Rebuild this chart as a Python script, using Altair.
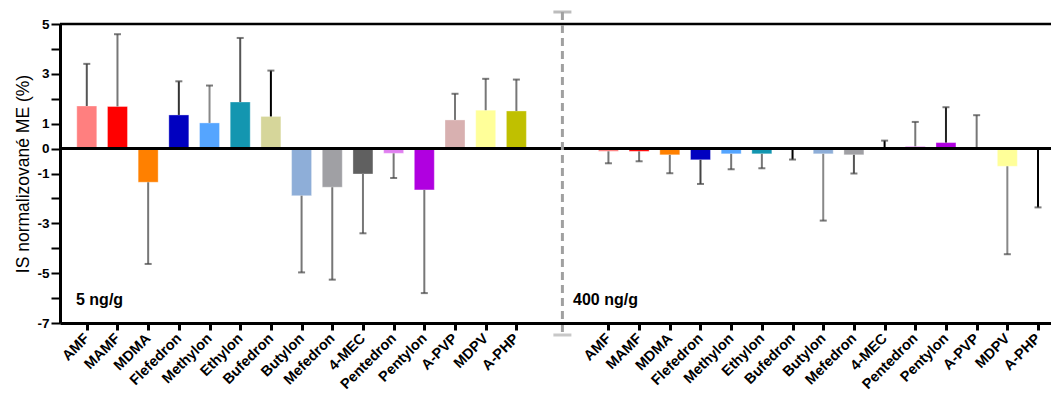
import altair as alt
import pandas as pd

# ---- data ----
NAMES = ["AMF", "MAMF", "MDMA", "Flefedron", "Methylon", "Ethylon", "Bufedron",
         "Butylon", "Mefedron", "4-MEC", "Pentedron", "Pentylon", "A-PVP", "MDPV", "A-PHP"]
GROUPS = ["5 ng/g", "400 ng/g"]
MEAN_5 = [1.71, 1.69, -1.35, 1.35, 1.03, 1.87, 1.29, -1.89, -1.55, -1.02, -0.19, -1.66, 1.15, 1.54, 1.51]
SD_5 = [1.69, 2.90, 3.28, 1.35, 1.50, 2.57, 1.84, 3.08, 3.71, 2.38, 0.99, 4.14, 1.05, 1.26, 1.26]
MEAN_400 = [-0.11, -0.11, -0.25, -0.45, -0.21, -0.21, -0.03, -0.21, -0.25, 0.01, 0.09, 0.24, 0.01, -0.71, -0.03]
SD_400 = [0.48, 0.40, 0.74, 0.97, 0.62, 0.58, 0.41, 2.68, 0.75, 0.31, 0.98, 1.42, 1.33, 3.53, 2.33]
Y_TICKS = list(range(-7, 6))

# ---- styles ----
BAR_COLORS = ["#FF7F7F", "#FF0000", "#FF8000", "#0000C0", "#55A5FF", "#1396B0", "#D6D69A",
              "#8EAED8", "#A0A0A4", "#606060", "#E080F0", "#B000E0", "#D8B0B0", "#FFFF99", "#C0C000"]
ERR_5 = ["#555", "#777", "#777", "#333", "#888", "#555", "#000", "#777", "#777", "#777",
         "#777", "#777", "#777", "#777", "#777"]
ERR_400 = ["#777", "#777", "#777", "#444", "#777", "#777", "#000", "#888", "#555", "#000",
           "#777", "#222", "#777", "#888", "#000"]
FONT = "Liberation Sans"
GAP = 17  # index where the second group starts

rows = []
for g, (means, sds, errc) in enumerate([(MEAN_5, SD_5, ERR_5), (MEAN_400, SD_400, ERR_400)]):
    for i, n in enumerate(NAMES):
        m = means[i]
        s = sds[i]
        sign = 1 if m >= 0 else -1
        rows.append({"group": GROUPS[g], "name": n, "pos": i + g * GAP, "mean": m,
                     "end": m + sign * s, "errc": errc[i]})
df = pd.DataFrame(rows)
positions = [int(p) for p in df["pos"]]

names_js = "[" + ",".join("'" + n + "'" for n in NAMES) + "]"
label_expr = names_js + "[datum.value < 16 ? datum.value : datum.value - 17]"

xscale = alt.Scale(domain=[-0.71, 31.26], nice=False, zero=False)
yscale = alt.Scale(domain=[-7, 5], nice=False, zero=False)

xaxis = alt.Axis(values=positions, labelExpr=label_expr, title=None, grid=False,
                 labelAngle=-45, labelAlign="right", labelBaseline="middle",
                 labelFontSize=14.5, labelFontWeight="bold", labelFont=FONT,
                 labelColor="black", labelPadding=6,
                 domainColor="black", domainWidth=3, tickColor="black",
                 tickWidth=3, tickSize=7, labelOverlap=False, labelFlush=False, zindex=2)
yaxis = alt.Axis(values=Y_TICKS,
                 labelExpr="(datum.value % 2 == 0 && datum.value != 0) ? '' : '' + datum.value",
                 title="IS normalizované ME (%)", titleFont=FONT, titleFontSize=17.5,
                 titleFontWeight="normal", titleColor="black", titlePadding=4,
                 grid=False, labelFontSize=13.5, labelFontWeight="bold", labelFont=FONT,
                 labelColor="black", labelPadding=2, domainColor="black",
                 domainWidth=3, tickColor="black", tickWidth=2, tickSize=9,
                 labelOverlap=False, labelFlush=False, zindex=2)

X = alt.X("pos:Q", scale=xscale, axis=xaxis)

base = alt.Chart(df)

bars = base.mark_bar(size=20, stroke="white", strokeOpacity=0.35, strokeWidth=1).encode(
    x=X,
    y=alt.Y("mean:Q", scale=yscale, axis=yaxis),
    y2=alt.datum(0),
    color=alt.Color("name:N", scale=alt.Scale(domain=NAMES, range=BAR_COLORS), legend=None),
)

err = base.mark_rule(strokeWidth=2).encode(
    x=X, y=alt.Y("mean:Q", scale=yscale, axis=yaxis), y2="end:Q",
    color=alt.Color("errc:N", scale=None))

caps = base.mark_tick(orient="horizontal", size=7, thickness=2, color="#444").encode(
    x=X, y=alt.Y("end:Q", scale=yscale, axis=yaxis))

one = alt.Chart(pd.DataFrame({"k": [0]}))

zero = one.mark_rule(color="black", strokeWidth=3).encode(
    y=alt.YDatum(0, scale=yscale, axis=yaxis))
top = one.mark_rule(color="black", strokeWidth=2.5).encode(
    y=alt.YDatum(5, scale=yscale, axis=yaxis))

sep_x = alt.XDatum(15.5, scale=xscale, axis=xaxis)
sep = one.mark_rule(color="#A0A0A0", strokeWidth=3, strokeDash=[8, 5]).encode(
    x=sep_x, y=alt.value(-12), y2=alt.value(311))
sep_top = one.mark_tick(orient="horizontal", size=18, thickness=3, color="#A0A0A0").encode(
    x=sep_x, y=alt.value(-12))
sep_bot = one.mark_tick(orient="horizontal", size=18, thickness=3, color="#B0B0B0").encode(
    x=sep_x, y=alt.value(311))

txt1 = one.mark_text(align="left", baseline="alphabetic", fontSize=16,
                     fontWeight="bold", font=FONT, color="black").encode(
    x=alt.value(16), y=alt.value(281), text=alt.value(GROUPS[0]))
txt2 = one.mark_text(align="left", baseline="alphabetic", fontSize=16,
                     fontWeight="bold", font=FONT, color="black").encode(
    x=alt.value(513), y=alt.value(281), text=alt.value(GROUPS[1]))

chart = alt.layer(bars, err, caps, zero, top, sep, sep_top, sep_bot, txt1, txt2).properties(
    width=991, height=299,
    autosize=alt.AutoSizeParams(type="none"),
    padding={"left": 60, "top": 24, "right": 0, "bottom": 75},
).configure_view(stroke=None).configure(font=FONT, background="white")

chart.save("out.html", embed_options={"renderer": "svg", "actions": False})
